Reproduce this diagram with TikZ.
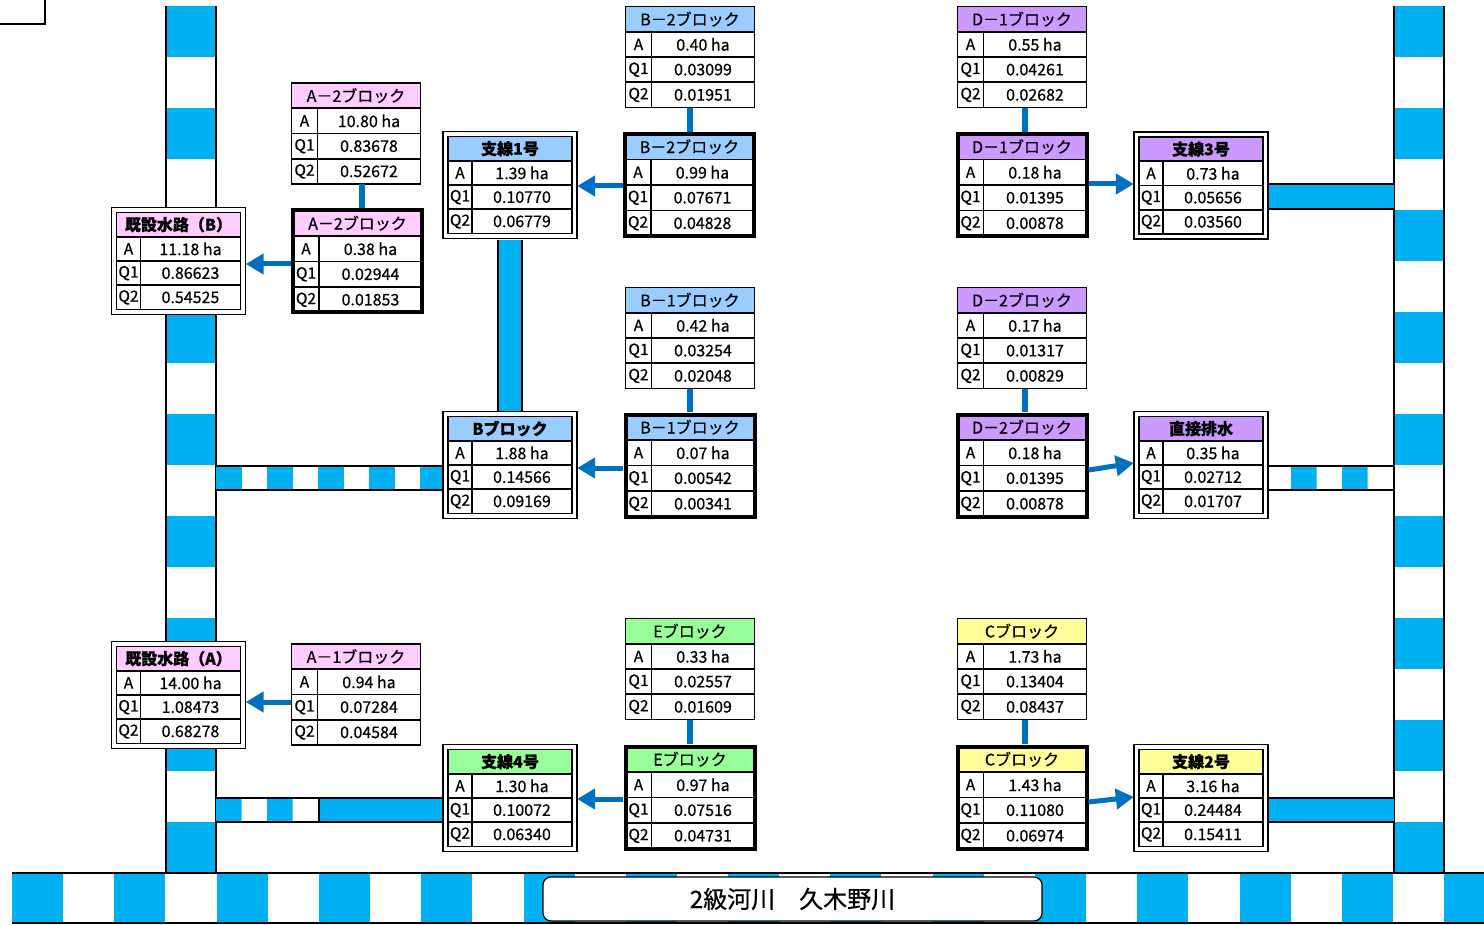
\documentclass[tikz,border=0pt]{standalone}
\usepackage{fontspec}
\setmainfont{Noto Sans CJK JP}
\newfontfamily\tblfont[FakeBold=0.6]{Noto Sans CJK JP}
\usetikzlibrary{arrows.meta,calc}
\definecolor{chanblue}{HTML}{00B0F0}
\definecolor{arrblue}{HTML}{0070C0}
\definecolor{cpink}{HTML}{FFCCFF}
\definecolor{cblue}{HTML}{99CCFF}
\definecolor{cpurple}{HTML}{CC99FF}
\definecolor{cgreen}{HTML}{99FF99}
\definecolor{cyellow}{HTML}{FFFF99}

% grid of a table: #1 name #2 cx #3 cy #4 colour #5 title #6 A #7 Q1 #8 Q2
\newcommand\tblgrid[8]{%
 \pgfmathsetmacro\gxl{#2-\ghw}\pgfmathsetmacro\gxr{#2+\ghw}%
 \pgfmathsetmacro\gyt{#3-\ghh}\pgfmathsetmacro\gyb{#3+\ghh}%
 \pgfmathsetmacro\gya{#3-\ghh/2}\pgfmathsetmacro\gyr{#3+\ghh/2}%
 \pgfmathsetmacro\gxd{#2-\ghw+\glw}%
 \pgfmathsetmacro\gxv{(#2-\ghw+\glw+#2+\ghw)/2}%
 \pgfmathsetmacro\gxlab{#2-\ghw+\glw/2}%
 \fill[white] (\gxl,\gyt) rectangle (\gxr,\gyb);
 \fill[#4] (\gxl,\gyt) rectangle (\gxr,\gya);
 \draw[cell] (\gxl,\gyt) rectangle (\gxr,\gyb)
   (\gxl,\gya) -- (\gxr,\gya) (\gxl,#3) -- (\gxr,#3) (\gxl,\gyr) -- (\gxr,\gyr)
   (\gxd,\gya) -- (\gxd,\gyb);
 \node[ttl] (#1-t) at (#2,{(\gyt+\gya)/2}) {#5};
 \node[lab] (#1-la) at (\gxlab,{(\gya+#3)/2}) {A};
 \node[lab] (#1-lq) at (\gxlab,{(#3+\gyr)/2}) {Q1};
 \node[lab] (#1-lr) at (\gxlab,{(\gyr+\gyb)/2}) {Q2};
 \node[val] (#1-va) at (\gxv,{(\gya+#3)/2}) {#6};
 \node[val] (#1-vq) at (\gxv,{(#3+\gyr)/2}) {#7};
 \node[val] (#1-vr) at (\gxv,{(\gyr+\gyb)/2}) {#8};
}
% single border table
\newcommand\tblS[8]{%
 \def\ghw{64.5}\def\ghh{50.5}\def\glw{26}%
 \node[boxn, minimum width=129pt, minimum height=101pt] (#1) at (#2,#3) {};
 \tblgrid{#1}{#2}{#3}{#4}{#5}{#6}{#7}{#8}}
% thick border table
\newcommand\tblT[8]{%
 \def\ghw{64.5}\def\ghh{51}\def\glw{26}%
 \node[boxn, minimum width=133pt, minimum height=106pt] (#1) at (#2,#3) {};
 \tblgrid{#1}{#2}{#3}{#4}{#5}{#6}{#7}{#8}
 \draw[line width=4pt] (\gxl,\gyt) rectangle (\gxr,\gyb);}
% double border table
\newcommand\tblD[8]{%
 \def\ghw{62}\def\ghh{48.5}\def\glw{24}%
 \node[boxn, minimum width=134pt, minimum height=107pt] (#1) at (#2,#3) {};
 \fill[white] ({#2-67},{#3-53.5}) rectangle ({#2+67},{#3+53.5});
 \draw[cell] ({#2-67},{#3-53.5}) rectangle ({#2+67},{#3+53.5});
 \tblgrid{#1}{#2}{#3}{#4}{\bfseries #5}{#6}{#7}{#8}}

\begin{document}
\begin{tikzpicture}[x=1pt,y=-1pt,
 cell/.style={line width=1.6pt, black},
 edge/.style={line width=2pt, black},
 ttl/.style={inner sep=0pt, font=\tblfont\fontsize{16}{16}\selectfont},
 val/.style={inner sep=0pt, font=\tblfont\fontsize{16}{16}\selectfont},
 lab/.style={inner sep=0pt, font=\tblfont\fontsize{15.5}{15.5}\selectfont},
 boxn/.style={rectangle, inner sep=0pt, draw=none},
 arr/.style={arrblue, line width=5pt, -{Triangle[length=18pt,width=20pt]}},
 link/.style={arrblue, line width=6pt}]

\useasboundingbox (0,0) rectangle (1484,925);

% top-left corner mark
\draw[edge] (0,24) -- (45,24) -- (45,0);

% ---------- main vertical channels ----------
\foreach \k in {0,...,8}{
  \fill[chanblue] (166,{6+102*\k}) rectangle (216,{57+102*\k});
  \fill[chanblue] (1394,{6+102*\k}) rectangle (1444,{57+102*\k});
}
\draw[edge] (166,6) -- (166,873) (216,6) -- (216,873);
\draw[edge] (1394,6) -- (1394,873) (1444,6) -- (1444,873);

% ---------- river ----------
\begin{scope}
\clip (12,873) rectangle (1484,923);
\foreach \k in {0,...,14}{
  \fill[chanblue] ({12+102.3*\k},873) rectangle ({63+102.3*\k},923);
}
\end{scope}
\draw[edge] (12,873) -- (1484,873) (12,923) -- (1484,923);
\node[draw, line width=1.2pt, fill=white, rounded corners=8pt, minimum width=499pt,
      minimum height=44pt, inner sep=0pt, font=\tblfont\fontsize{24}{24}\selectfont]
      (river) at (792.5,899) {2級河川　久木野川};

% ---------- branch channels ----------
% left channel to B block (striped)
\foreach \k in {0,...,4}{\fill[chanblue] ({216+51*\k},466) rectangle ({241.5+51*\k},490);}
\draw[edge] (216,466) -- (443,466) (216,490) -- (443,490);
% left channel to 支線4号
\fill[chanblue] (216,798) rectangle (241.5,822) (267,798) rectangle (292.5,822) (319,798) rectangle (443,822);
\draw[edge] (216,798) -- (443,798) (216,822) -- (443,822) (319,798) -- (319,822);
% 支線1号 to Bブロック (vertical)
\fill[chanblue] (498,240) rectangle (522,411);
\draw[edge] (498,240) -- (498,411) (522,240) -- (522,411);
% right side channels
\fill[chanblue] (1268,184) rectangle (1394,209);
\draw[edge] (1268,184) -- (1394,184) (1268,209) -- (1394,209);
\fill[chanblue] (1291,466) rectangle (1316.5,490) (1342,466) rectangle (1367.5,490);
\draw[edge] (1268,466) -- (1394,466) (1268,490) -- (1394,490);
\fill[chanblue] (1268,798) rectangle (1394,822);
\draw[edge] (1268,798) -- (1394,798) (1268,822) -- (1394,822);

% ---------- tables ----------
\tblS{a2u}{356}{133.5}{cpink}{A－2ブロック}{10.80 ha}{0.83678}{0.52672}
\tblT{a2l}{357.5}{261.5}{cpink}{A－2ブロック}{0.38 ha}{0.02944}{0.01853}
\tblD{kb}{178.5}{261}{cpink}{既設水路（B）}{11.18 ha}{0.86623}{0.54525}
\tblD{s1}{510}{185}{cblue}{支線1号}{1.39 ha}{0.10770}{0.06779}
\tblS{b2u}{690}{57}{cblue}{B－2ブロック}{0.40 ha}{0.03099}{0.01951}
\tblT{b2l}{689.5}{185}{cblue}{B－2ブロック}{0.99 ha}{0.07671}{0.04828}
\tblS{d1u}{1022}{57}{cpurple}{D－1ブロック}{0.55 ha}{0.04261}{0.02682}
\tblT{d1l}{1022}{185}{cpurple}{D－1ブロック}{0.18 ha}{0.01395}{0.00878}
\tblD{s3}{1201}{185.5}{cpurple}{支線3号}{0.73 ha}{0.05656}{0.03560}
\tblS{b1u}{690}{338}{cblue}{B－1ブロック}{0.42 ha}{0.03254}{0.02048}
\tblT{b1l}{690}{465.5}{cblue}{B－1ブロック}{0.07 ha}{0.00542}{0.00341}
\tblD{bb}{510}{465}{cblue}{Bブロック}{1.88 ha}{0.14566}{0.09169}
\tblS{d2u}{1022}{338}{cpurple}{D－2ブロック}{0.17 ha}{0.01317}{0.00829}
\tblT{d2l}{1022}{465.5}{cpurple}{D－2ブロック}{0.18 ha}{0.01395}{0.00878}
\tblD{ch}{1201}{465}{cpurple}{直接排水}{0.35 ha}{0.02712}{0.01707}
\tblD{ka}{178.5}{695}{cpink}{既設水路（A）}{14.00 ha}{1.08473}{0.68278}
\tblS{a1}{356}{694.5}{cpink}{A－1ブロック}{0.94 ha}{0.07284}{0.04584}
\tblS{eu}{690}{669}{cgreen}{Eブロック}{0.33 ha}{0.02557}{0.01609}
\tblT{el}{690}{797.5}{cgreen}{Eブロック}{0.97 ha}{0.07516}{0.04731}
\tblD{s4}{510}{798}{cgreen}{支線4号}{1.30 ha}{0.10072}{0.06340}
\tblS{cu}{1022}{669}{cyellow}{Cブロック}{1.73 ha}{0.13404}{0.08437}
\tblT{cl}{1022}{797.5}{cyellow}{Cブロック}{1.43 ha}{0.11080}{0.06974}
\tblD{s2}{1201}{798}{cyellow}{支線2号}{3.16 ha}{0.24484}{0.15411}

% ---------- links upper -> lower ----------
\draw[link] ([xshift=6pt]a2u.south) -- ([xshift=4.5pt]a2l.north);
\draw[link] (b2u.south) -- ([xshift=0.5pt]b2l.north);
\draw[link] ([xshift=3pt]d1u.south) -- ([xshift=3pt]d1l.north);
\draw[link] (b1u.south) -- (b1l.north);
\draw[link] ([xshift=3pt]d2u.south) -- ([xshift=3pt]d2l.north);
\draw[link] (eu.south) -- (el.north);
\draw[link] ([xshift=3pt]cu.south) -- ([xshift=3pt]cl.north);

% ---------- flow arrows ----------
\draw[arr] ([yshift=-2.5pt]a2l.west) -- ([yshift=-3pt]kb.east);
\draw[arr] ([yshift=-1pt]b2l.west) -- ([yshift=-1pt]s1.east);
\draw[arr] ([yshift=-2.5pt]b1l.west) -- ([yshift=-3pt]bb.east);
\draw[arr] ([yshift=1pt]d1l.east) -- ([yshift=1.5pt]s3.west);
\draw[arr] ([yshift=-4.5pt]d2l.east) -- ([yshift=2pt]ch.west);
\draw[arr] ([yshift=-7.5pt]a1.west) -- ([yshift=-7pt]ka.east);
\draw[arr] ([yshift=-1.5pt]el.west) -- ([yshift=-1pt]s4.east);
\draw[arr] ([yshift=-4.5pt]cl.east) -- ([yshift=1pt]s2.west);
\end{tikzpicture}
\end{document}
